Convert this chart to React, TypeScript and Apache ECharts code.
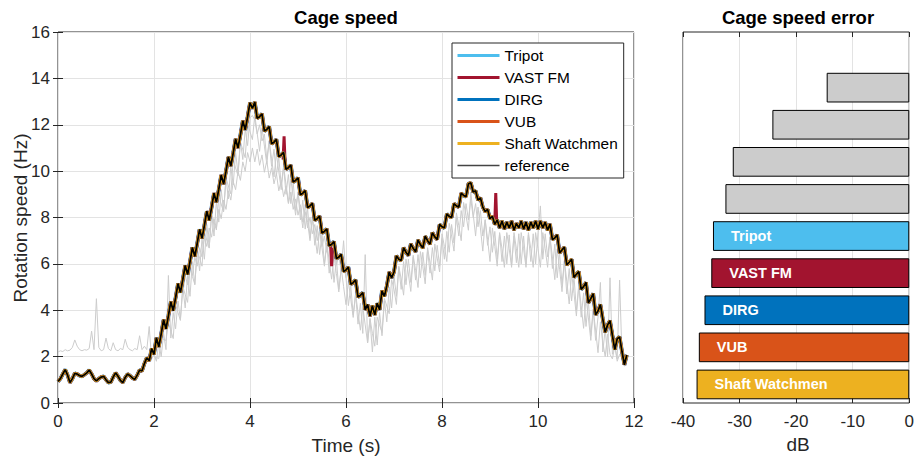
import React, { useEffect, useRef } from 'react';
import * as echarts from 'echarts';

// ---------- data: cage speed (Hz), sampled every T_STEP seconds ----------
const T_STEP = 0.05;
const REF_START = 0;
// reference (black), t = 0 .. 11.85 s, 20 samples per row (1 s)
const reference = [
  0.93, 1.05, 1.25, 1.44, 1.20, 0.88, 1.05, 1.28, 1.25, 1.18, 1.15, 1.22, 1.30, 1.42, 1.25, 1.05, 0.95, 1.05, 1.12, 1.15,
  1.00, 0.88, 0.90, 1.12, 1.30, 1.15, 0.98, 0.88, 1.10, 1.25, 1.18, 1.08, 1.02, 1.20, 1.42, 1.38, 1.70, 1.95, 1.82, 2.35,
  2.10, 2.81, 2.42, 2.98, 3.59, 3.20, 3.76, 4.37, 3.98, 4.54, 5.15, 4.76, 5.32, 5.93, 5.54, 6.10, 6.71, 6.32, 6.88, 7.49,
  7.10, 7.66, 8.27, 7.88, 8.44, 9.05, 8.66, 9.22, 9.83, 9.44, 10.00, 10.61, 10.22, 10.78, 11.39, 11.00, 11.56, 12.17, 11.78, 12.34,
  12.95, 12.70, 12.98, 12.28, 12.35, 12.47, 11.73, 11.80, 11.92, 11.18, 11.25, 11.37, 10.63, 10.70, 10.81, 10.08, 10.15, 10.26, 9.53, 9.60,
  9.71, 8.98, 9.05, 9.16, 8.43, 8.50, 8.61, 7.88, 7.95, 8.06, 7.33, 7.40, 7.51, 6.78, 6.84, 6.96, 6.23, 6.29, 6.41, 5.67,
  5.74, 5.86, 5.12, 5.19, 5.31, 4.57, 4.64, 4.76, 4.02, 4.25, 3.75, 4.20, 3.80, 4.30, 4.02, 4.84, 4.60, 5.05, 5.65, 5.40,
  5.65, 6.35, 6.20, 6.15, 6.70, 6.50, 6.36, 6.86, 6.67, 6.52, 7.03, 6.83, 6.68, 7.19, 7.00, 6.85, 7.35, 7.16, 7.05, 7.70,
  7.60, 7.55, 8.15, 8.05, 8.00, 8.60, 8.50, 8.45, 9.05, 8.95, 8.90, 9.45, 9.50, 9.10, 9.15, 8.75, 8.85, 8.45, 8.25, 8.35,
  7.95, 8.05, 7.70, 7.90, 7.55, 7.85, 7.50, 7.80, 7.55, 7.85, 7.45, 7.75, 7.55, 7.85, 7.50, 7.80, 7.45, 7.80, 7.55, 7.85,
  7.50, 7.85, 7.55, 7.80, 7.45, 7.72, 7.05, 7.12, 7.25, 6.47, 6.60, 6.72, 5.95, 6.07, 6.20, 5.42, 5.55, 5.67, 4.90, 5.02,
  5.20, 4.32, 4.50, 4.72, 3.80, 3.97, 4.25, 3.62, 3.05, 3.37, 3.55, 2.92, 2.30, 2.77, 2.85, 2.22, 1.65, 2.07,
];

// other (unnamed) estimators, light grey
const GRAY_A_START = 0;
const grayA = [
  2.20, 2.25, 2.22, 2.30, 2.25, 2.28, 2.40, 2.72, 2.45, 2.30, 2.25, 2.30, 2.28, 2.35, 3.10, 2.30, 4.50, 2.40, 2.25, 2.30,
  2.80, 2.35, 2.25, 2.60, 2.30, 2.25, 2.35, 2.30, 2.75, 2.40, 2.30, 2.25, 2.35, 2.30, 2.90, 2.30, 2.45, 2.30, 3.30, 1.90,
  2.10, 1.80, 2.60, 2.00, 3.00, 2.30, 5.50, 2.80, 3.90, 3.20, 4.40, 3.60, 5.00, 4.10, 5.50, 4.60, 6.10, 5.10, 6.60, 5.70,
  7.10, 6.20, 7.70, 6.70, 8.20, 7.20, 8.70, 7.80, 9.20, 8.30, 9.70, 8.80, 10.20, 9.40, 10.80, 9.90, 11.30, 10.50, 11.80, 11.10,
  12.30, 12.40, 12.20, 11.60, 12.00, 11.30, 11.60, 10.50, 11.30, 10.20, 10.95, 9.80, 10.60, 9.40, 10.20, 9.00, 9.85, 8.60, 9.50, 8.30,
  9.10, 7.90, 8.75, 7.50, 8.40, 7.10, 8.00, 6.80, 7.65, 6.40, 7.30, 6.00, 6.90, 5.60, 6.55, 5.20, 6.20, 4.90, 5.80, 7.00,
  5.40, 4.20, 5.05, 3.80, 4.70, 3.40, 4.30, 3.00, 6.40, 2.60, 3.60, 2.20, 3.70, 2.50, 3.90, 2.90, 4.40, 3.50, 5.00, 4.10,
  5.50, 4.60, 5.85, 4.90, 6.10, 5.10, 6.20, 5.20, 6.30, 5.30, 6.40, 5.40, 6.50, 5.50, 6.60, 5.60, 6.70, 5.70, 6.80, 5.90,
  7.10, 6.20, 7.40, 6.50, 7.70, 6.90, 8.00, 7.20, 8.30, 7.60, 8.60, 7.90, 8.80, 8.00, 8.60, 7.60, 8.30, 7.20, 7.90, 6.80,
  7.60, 6.50, 7.40, 6.20, 7.30, 6.10, 7.20, 6.00, 7.25, 5.95, 7.20, 6.05, 7.30, 6.00, 7.20, 5.95, 7.25, 6.10, 7.30, 6.00,
  7.35, 8.50, 6.20, 7.30, 6.30, 7.15, 5.80, 6.85, 5.40, 6.50, 5.10, 6.15, 4.70, 5.80, 4.40, 5.45, 4.00, 5.10, 3.70, 4.75,
  3.30, 4.40, 2.90, 4.05, 2.70, 3.70, 5.20, 2.20, 3.20, 2.00, 5.40, 2.10, 2.50, 1.90, 5.30, 2.00, 1.60, 1.70,
];
const GRAY_B_START = 2.6;
const grayB = [
  4.70, 5.50, 5.10, 5.90, 5.50, 6.30, 5.90, 6.70, 6.30, 7.15, 6.75, 7.55, 7.15, 7.95, 7.55, 8.35, 7.95, 8.75, 8.35, 9.15,
  8.75, 9.55, 9.20, 10.00, 9.60, 10.40, 10.00, 10.80, 10.40, 11.00, 10.40, 10.95, 10.25, 10.70, 9.95, 10.45, 9.70, 10.15, 9.45, 9.90,
  9.15, 9.60, 8.90, 9.35, 8.60, 9.10, 8.35, 8.80, 8.10, 8.55, 7.80, 8.25, 7.55, 8.00, 7.30, 7.70, 7.00, 7.45, 6.75, 7.20,
  6.50, 6.90, 6.20, 6.60, 5.95, 6.35, 5.70, 6.05, 5.40,
];
const GRAY_C_START = 2.0;
const grayC = [
  2.00, 1.96, 1.92, 2.78, 2.74, 2.70, 3.46, 3.12, 2.78, 4.24, 3.90, 3.56, 5.02, 4.68, 4.34, 5.80, 5.46, 5.12, 6.58, 6.24,
  5.90, 7.36, 7.02, 6.68, 8.14, 7.80, 7.46, 8.92, 8.58, 8.24, 9.70, 9.36, 9.02, 10.48, 10.14, 9.80, 11.26, 10.92, 10.58, 12.04,
  11.70, 11.36, 12.42, 11.63, 10.85, 11.87, 11.08, 10.30, 11.32, 10.53, 9.75, 10.77, 9.98, 9.20, 10.21, 9.43, 8.65, 9.66, 8.88, 8.10,
  9.11, 8.33, 7.55, 8.56, 7.78, 7.00, 8.01, 7.23, 6.45, 7.46, 6.68, 5.90, 6.91, 6.13, 5.34, 6.36, 5.58, 4.79, 5.81, 5.02,
  4.24, 5.26, 4.47, 3.69, 4.71, 3.92, 3.14, 4.16, 3.37, 2.59, 3.65, 3.00, 2.45, 3.70, 3.37, 3.04, 4.51, 4.18, 3.85, 5.32,
  4.90, 4.25, 5.90, 5.35, 4.65, 6.20, 5.56, 4.81, 6.37, 5.72, 4.98, 6.53, 5.88, 5.14, 6.70, 6.05, 5.30, 6.86, 6.25, 5.65,
  7.30, 6.75, 6.10, 7.75, 7.20, 6.55, 8.20, 7.65, 7.00, 8.65, 8.10, 7.45, 9.10, 8.15, 7.20, 8.45, 7.55, 6.55, 7.90, 7.05,
  6.10, 7.55, 6.75, 5.90, 7.35, 6.65, 5.85, 7.35, 6.65, 5.85, 7.35, 6.65, 5.85, 7.35, 6.65, 5.85, 7.35, 6.65, 5.85, 7.35,
  6.65, 5.85, 7.35, 6.65, 5.85, 7.17, 6.30, 5.32, 6.65, 5.77, 4.80, 6.12, 5.25, 4.27, 5.60, 4.72, 3.75, 5.07, 4.20, 3.22,
  4.55, 3.67, 2.70, 4.02, 3.15, 2.17, 3.50, 2.62, 2.00, 2.97, 2.10, 1.90, 2.45, 1.80, 2.10, 1.95, 1.60, 1.65,
];
// VAST FM outliers (null = gap)
const vastSpikeTimes = [4.69, 4.71, 4.73, 4.74, 5.68, 5.70, 5.72, 5.73, 9.10, 9.12, 9.14];
const vastSpikeVals = [10.50, 11.50, 10.40, null, 6.80, 5.90, 6.70, null, 7.80, 9.05, 7.80];

const lineNames = ['Tripot', 'VAST FM', 'DIRG', 'VUB', 'Shaft Watchmen'];
const lineColors = ['#4DBEEE', '#A2142F', '#0072BD', '#D95319', '#EDB120'];
const lineWidths = [3.9, 3.5, 3.2, 3.0, 2.8];
const legendNames = ['Tripot', 'VAST FM', 'DIRG', 'VUB', 'Shaft Watchmen', 'reference'];

// ---------- data: cage speed error (dB) ----------
const barCategories = ['', 'Method 1', 'Method 2', 'Method 3', 'Method 4', 'Tripot', 'VAST FM', 'DIRG', 'VUB', 'Shaft Watchmen'];
const barValues = [null, -14.6, -24.2, -31.2, -32.5, -34.7, -35.0, -36.2, -37.2, -37.6];
const barLabels = ['', '', '', '', '', 'Tripot', 'VAST FM', 'DIRG', 'VUB', 'Shaft Watchmen'];
const barColors = ['#cccccc', '#cccccc', '#cccccc', '#cccccc', '#cccccc', '#4DBEEE', '#A2142F', '#0072BD', '#D95319', '#EDB120'];

const FONT = '"Liberation Sans", Arial, Helvetica, sans-serif';
const AX = '#262626';

const toPairs = (start: number, vals: number[]) =>
  vals.map((v, i) => [Math.round((start + i * T_STEP) * 1000) / 1000, v]);

function buildOption() {
  const refPairs = toPairs(REF_START, reference);
  const spikePairs = vastSpikeTimes.map((t, i) => [t, vastSpikeVals[i] == null ? '-' : vastSpikeVals[i]]);

  const grayStyle = { color: '#cccccc', width: 1 };
  const grays: [string, number, number[]][] = [
    ['grayA', GRAY_A_START, grayA],
    ['grayB', GRAY_B_START, grayB],
    ['grayC', GRAY_C_START, grayC],
  ];
  const series: any[] = grays.map(([n, s, v]) => ({
    name: n, type: 'line', data: toPairs(s, v), symbol: 'none', lineStyle: grayStyle,
    itemStyle: { color: '#cccccc' }, silent: true, xAxisIndex: 0, yAxisIndex: 0,
  }));
  lineNames.forEach((n, i) => {
    series.push({
      name: n, type: 'line', data: refPairs, symbol: 'none', xAxisIndex: 0, yAxisIndex: 0,
      lineStyle: { color: lineColors[i], width: lineWidths[i] }, itemStyle: { color: lineColors[i] },
    });
    if (n === 'VAST FM') {
      series.push({
        name: n, type: 'line', data: spikePairs, symbol: 'none', connectNulls: false, xAxisIndex: 0, yAxisIndex: 0,
        lineStyle: { color: lineColors[i], width: 3 }, itemStyle: { color: lineColors[i] },
      });
    }
  });
  series.push({
    name: 'reference', type: 'line', data: refPairs, symbol: 'none', xAxisIndex: 0, yAxisIndex: 0,
    lineStyle: { color: '#000000', width: 1.8 }, itemStyle: { color: '#000000' },
  });
  series.push({
    name: 'error', type: 'bar', xAxisIndex: 2, yAxisIndex: 2, barWidth: '80%',
    data: barValues.map((v, i) => ({
      value: v == null ? '-' : v,
      itemStyle: { color: barColors[i], borderColor: '#000', borderWidth: 1 },
    })),
    label: {
      show: true, position: 'insideLeft', distance: 18,
      formatter: (p: any) => barLabels[p.dataIndex],
      color: '#fff', fontWeight: 'bold', fontSize: 14.5, fontFamily: FONT,
    },
  });

  const tick = { show: true, inside: true, length: 5, lineStyle: { color: AX, width: 1 } };
  const split = { show: true, lineStyle: { color: '#e3e3e3', width: 1 } };
  const lbl = { fontSize: 17, color: AX, fontFamily: FONT };

  return {
    animation: false,
    backgroundColor: '#ffffff',
    textStyle: { fontFamily: FONT },
    grid: [
      { left: 58, top: 32, width: 576, height: 371, show: true, borderColor: AX, borderWidth: 1, backgroundColor: 'transparent' },
      { left: 683, top: 32, width: 230, height: 371, show: true, borderColor: AX, borderWidth: 1, backgroundColor: 'transparent' },
    ],
    xAxis: [
      { type: 'value', gridIndex: 0, min: 0, max: 12, interval: 2, position: 'bottom', axisLine: { show: false }, axisTick: tick, axisLabel: { ...lbl, margin: 10 }, splitLine: split },
      { type: 'value', gridIndex: 0, min: 0, max: 12, interval: 2, position: 'top', axisLine: { show: false }, axisTick: tick, axisLabel: { show: false }, splitLine: { show: false } },
      { type: 'value', gridIndex: 1, min: -40, max: 0, interval: 10, position: 'bottom', axisLine: { show: false }, axisTick: tick, axisLabel: { ...lbl, margin: 10 }, splitLine: split },
      { type: 'value', gridIndex: 1, min: -40, max: 0, interval: 10, position: 'top', axisLine: { show: false }, axisTick: tick, axisLabel: { show: false }, splitLine: { show: false } },
    ],
    yAxis: [
      { type: 'value', gridIndex: 0, min: 0, max: 16, interval: 2, position: 'left', axisLine: { show: false }, axisTick: tick, axisLabel: { ...lbl, margin: 8 }, splitLine: split },
      { type: 'value', gridIndex: 0, min: 0, max: 16, interval: 2, position: 'right', axisLine: { show: false }, axisTick: tick, axisLabel: { show: false }, splitLine: { show: false } },
      { type: 'category', gridIndex: 1, data: barCategories, inverse: true, axisLine: { show: false }, axisTick: { show: false }, axisLabel: { show: false }, splitLine: { show: false } },
    ],
    legend: {
      data: legendNames.map((n, i) => ({
        name: n,
        lineStyle: i < lineColors.length
          ? { width: 3, color: lineColors[i] }
          : { width: 1.5, color: '#444444' },
      })),
      orient: 'vertical', left: 452, top: 43, padding: [5, 6, 5, 4],
      itemWidth: 42, itemHeight: 14, itemGap: 7,
      itemStyle: { color: 'rgba(0,0,0,0)', borderWidth: 0, opacity: 0 },
      borderColor: AX, borderWidth: 1, backgroundColor: '#ffffff',
      textStyle: { fontSize: 15.4, color: '#000', fontFamily: FONT, lineHeight: 14 },
      selectedMode: false,
    },
    graphic: [
      { type: 'text', x: 346, y: 17.5, style: { text: 'Cage speed', align: 'center', verticalAlign: 'middle', fontSize: 18.5, fontWeight: 'bold', fill: '#000', fontFamily: FONT } },
      { type: 'text', x: 798, y: 17.5, style: { text: 'Cage speed error', align: 'center', verticalAlign: 'middle', fontSize: 18.5, fontWeight: 'bold', fill: '#000', fontFamily: FONT } },
      { type: 'text', x: 346, y: 445, style: { text: 'Time (s)', align: 'center', verticalAlign: 'middle', fontSize: 19, fill: AX, fontFamily: FONT } },
      { type: 'text', x: 798, y: 444, style: { text: 'dB', align: 'center', verticalAlign: 'middle', fontSize: 19, fill: AX, fontFamily: FONT } },
      { type: 'text', x: 20, y: 218, rotation: Math.PI / 2, style: { text: 'Rotation speed (Hz)', align: 'center', verticalAlign: 'middle', fontSize: 19, fill: AX, fontFamily: FONT } },
    ],
    series,
  };
}

export default function App() {
  const ref = useRef<HTMLDivElement>(null);
  useEffect(() => {
    if (!ref.current) return;
    const chart = echarts.init(ref.current, null, { renderer: 'svg' });
    chart.setOption(buildOption() as any);
    return () => chart.dispose();
  }, []);
  return (
    <div
      ref={ref}
      style={{ position: 'absolute', left: 0, top: 0, width: 917, height: 460, background: '#fff' }}
    />
  );
}
